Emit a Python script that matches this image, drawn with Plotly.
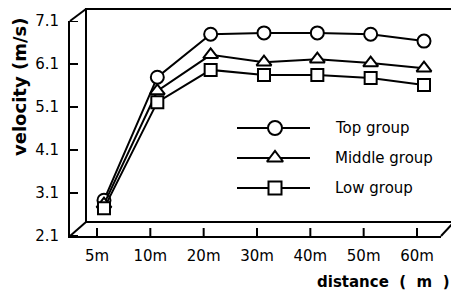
import plotly.graph_objects as go

# ---------------- data ----------------
categories = ["5m", "10m", "20m", "30m", "40m", "50m", "60m"]
top_group = [2.77, 5.63, 6.63, 6.66, 6.66, 6.63, 6.47]
middle_group = [2.68, 5.31, 6.15, 5.98, 6.05, 5.96, 5.84]
low_group = [2.58, 5.05, 5.80, 5.68, 5.68, 5.61, 5.45]
y_ticks = [2.1, 3.1, 4.1, 5.1, 6.1, 7.1]
y_ticklabels = ["2.1", "3.1", "4.1", "5.1", "6.1", "7.1"]
series_names = ["Top group", "Middle group", "Low group"]
series_symbols = ["circle", "triangle-up", "square"]

# the page body has an 8px margin; lay out in window pixels
OFF = 8
W, H = 459 - OFF, 292 - OFF


def X(px):
    return (px - OFF) / W


def Y(py):
    return 1 - (py - OFF) / H


xs = list(range(len(categories)))
x_range = [-0.506, 6.45]
y_range = [2.1, 7.1]

# front (labelled) axes in window pixels
FL, FR, FT, FB = 70, 441, 21, 236
# data plane offset (mid-depth of the pseudo-3D box)
DX, DY = 7, -7
TICKLEN = 8

fig = go.Figure()

# invisible trace so the front labelled axes are drawn
fig.add_trace(go.Scatter(x=xs, y=top_group, mode="markers", showlegend=False,
                         marker=dict(opacity=0), hoverinfo="skip",
                         xaxis="x2", yaxis="y2"))

sizes = {"circle": 13, "triangle-up": 13, "square": 12}
for name, sym, vals in zip(series_names, series_symbols, [top_group, middle_group, low_group]):
    fig.add_trace(go.Scatter(
        x=xs, y=vals, mode="lines+markers", name=name, showlegend=False,
        line=dict(color="black", width=2),
        marker=dict(symbol=sym, size=sizes[sym], color="white",
                    line=dict(color="black", width=2)),
        xaxis="x", yaxis="y", cliponaxis=False,
    ))

# custom legend (window-pixel axes)
legend_rows = [128, 158, 188]
for name, sym, row in zip(series_names, series_symbols, legend_rows):
    fig.add_trace(go.Scatter(
        x=[237, 310], y=[row, row], mode="lines", showlegend=False,
        line=dict(color="black", width=2), xaxis="x3", yaxis="y3", hoverinfo="skip"))
    fig.add_trace(go.Scatter(
        x=[275], y=[row], mode="markers", showlegend=False,
        marker=dict(symbol=sym, size=sizes[sym] + 1, color="white",
                    line=dict(color="black", width=2)),
        xaxis="x3", yaxis="y3", hoverinfo="skip"))
    fig.add_annotation(x=X(333), y=Y(row), xref="paper", yref="paper",
                       text=name, showarrow=False, xanchor="left", yanchor="middle",
                       font=dict(family="DejaVu Sans", size=15, color="black"))

# frame of the pseudo-3D box
line_style = dict(color="black", width=2)
shapes = [
    dict(type="rect", x0=X(86), x1=X(454), y0=Y(9), y1=Y(222)),
    dict(type="line", x0=X(FL), y0=Y(FT), x1=X(86), y1=Y(9)),
    dict(type="line", x0=X(FL), y0=Y(FB), x1=X(86), y1=Y(222)),
    dict(type="line", x0=X(FR), y0=Y(FB), x1=X(454), y1=Y(222)),
]
for s in shapes:
    s.update(xref="paper", yref="paper", line=line_style, layer="above")

# tick marks of the front axes, placed through the axes themselves
for v in y_ticks:
    shapes.append(dict(type="line", xref="x2 domain", yref="y2",
                       x0=0, x1=TICKLEN / (FR - FL), y0=v, y1=v,
                       line=line_style, layer="above"))
for i in xs:
    shapes.append(dict(type="line", xref="x2", yref="y2 domain",
                       x0=i, x1=i, y0=0, y1=TICKLEN / (FB - FT),
                       line=line_style, layer="above"))

fig.add_annotation(x=X(20), y=Y(87), xref="paper", yref="paper",
                   text="velocity (m/s)", textangle=-90, showarrow=False,
                   xanchor="center", yanchor="middle",
                   font=dict(family="DejaVu Sans", size=18, color="black", weight="bold"))
fig.add_annotation(x=X(452), y=Y(282), xref="paper", yref="paper",
                   text="distance  (  m  )", showarrow=False,
                   xanchor="right", yanchor="middle",
                   font=dict(family="DejaVu Sans", size=15, color="black", weight="bold"))

tickfont = dict(family="DejaVu Sans", size=15, color="black")
fig.update_layout(
    width=W, height=H,
    margin=dict(l=0, r=0, t=0, b=0, autoexpand=False),
    paper_bgcolor="white", plot_bgcolor="rgba(0,0,0,0)",
    shapes=shapes,
    # data plane
    xaxis=dict(domain=[X(FL + DX), X(FR + DX)], range=x_range, visible=False,
               anchor="y", fixedrange=True),
    yaxis=dict(domain=[Y(FB + DY), Y(FT + DY)], range=y_range, visible=False,
               anchor="x", fixedrange=True),
    # front labelled axes
    xaxis2=dict(domain=[X(FL), X(FR)], range=x_range, anchor="y2",
                tickvals=xs, ticktext=categories, ticks="",
                showline=True, linecolor="black",
                linewidth=2, showgrid=False, zeroline=False, tickfont=tickfont,
                ticklabelstandoff=5, fixedrange=True),
    yaxis2=dict(domain=[Y(FB), Y(FT)], range=y_range, anchor="x2",
                tickvals=y_ticks, ticktext=y_ticklabels, ticks="",
                showline=True, linecolor="black",
                linewidth=2, showgrid=False, zeroline=False, tickfont=tickfont,
                ticklabelstandoff=6, fixedrange=True),
    # legend pixel space
    xaxis3=dict(domain=[0, 1], range=[OFF, OFF + W], visible=False, anchor="y3", fixedrange=True),
    yaxis3=dict(domain=[0, 1], range=[OFF + H, OFF], visible=False, anchor="x3", fixedrange=True),
)

fig.write_html("out.html")
